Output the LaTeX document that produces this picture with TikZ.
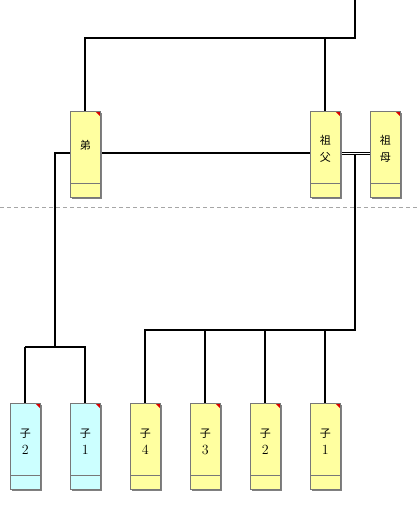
\documentclass[tikz,border=0pt]{standalone}
\usepackage{fontspec}
\newfontfamily\cjk{Noto Sans CJK JP}
\usetikzlibrary{shadows,backgrounds}
\definecolor{boxy}{RGB}{255,255,160}
\definecolor{boxc}{RGB}{204,255,255}
\definecolor{boxedge}{RGB}{120,120,120}
\definecolor{shade}{RGB}{128,128,128}
\tikzset{
  famcard/.style={draw=boxedge, line width=0.8pt, anchor=north west,
    minimum width=30pt, minimum height=86pt, inner sep=0pt,
    drop shadow={shadow xshift=2pt, shadow yshift=-2pt, fill=shade, opacity=1},
    path picture={
      \draw[boxedge, line width=0.8pt] ([yshift=14pt]path picture bounding box.south west) -- ([yshift=14pt]path picture bounding box.south east);
      \fill[red!85!black] (path picture bounding box.north east) -- ++(-5pt,0) -- ++(5pt,-5pt) -- cycle;
    }},
  ycard/.style={famcard, fill=boxy},
  ccard/.style={famcard, fill=boxc},
  lbl/.style={align=center, font=\fontsize{11}{17}\selectfont, inner sep=0pt},
  link/.style={line width=2pt, black},
}
\begin{document}
\begin{tikzpicture}[x=1pt,y=-1pt]
\useasboundingbox (0,0) rectangle (420,528);
% cards
\node[ycard] (di) at (70,111) {};
\node[ycard] (gf) at (310,111) {};
\node[ycard] (gm) at (370,111) {};
\node[ccard] (ca2) at (10,403) {};
\node[ccard] (ca1) at (70,403) {};
\node[ycard] (cb4) at (130,403) {};
\node[ycard] (cb3) at (190,403) {};
\node[ycard] (cb2) at (250,403) {};
\node[ycard] (cb1) at (310,403) {};
% labels
\node[lbl] (tdi) at ([yshift=9pt]di.center) {\cjk 弟};
\node[lbl] (tgf) at ([yshift=6pt]gf.center) {\cjk 祖\\\cjk 父};
\node[lbl] (tgm) at ([yshift=6pt]gm.center) {\cjk 祖\\\cjk 母};
\foreach \n/\d in {ca2/2,ca1/1,cb4/4,cb3/3,cb2/2,cb1/1}{
  \node[lbl] (t\n) at ([yshift=5pt]\n.center) {{\cjk\fontsize{11}{11}\selectfont 子}\\[0pt]{\fontsize{14}{14}\selectfont\d}};
}
\begin{pgfonlayer}{background}
% dashed separator
\coordinate (dl) at (0,207);
\coordinate (dr) at (420,207);
\draw[gray!70, line width=0.8pt, dash pattern=on 4pt off 3pt] (dl) -- (dr);
% top lineage
\coordinate (top) at (355,0);
\coordinate (j1) at (355,38);
\draw[link] (top) -- (j1) -| (di.north);
\draw[link] (gf.north |- j1) -- (gf.north);
% 弟 line
\coordinate (j2) at (55,153);
\coordinate (j3) at (55,347);
\draw[link] (gf.west |- j2) -- (j2) -- (j3);
\draw[link] (ca2.north |- j3) -- (ca2.north);
\draw[link] (ca2.north |- j3) -- (ca1.north |- j3) -- (ca1.north);
% marriage
\draw[line width=0.9pt, double=white, double distance=1.2pt] (gf.east |- j2) ++(0,0.8) coordinate (m1) -- (gm.west |- m1);
\coordinate (m2) at (355,154);
\coordinate (j4) at (355,330);
\draw[link] (m2) -- (j4) -- (cb4.north |- j4) -- (cb4.north);
\foreach \n in {cb3,cb2,cb1}{ \draw[link] (\n.north |- j4) -- (\n.north); }
\end{pgfonlayer}
\end{tikzpicture}
\end{document}
